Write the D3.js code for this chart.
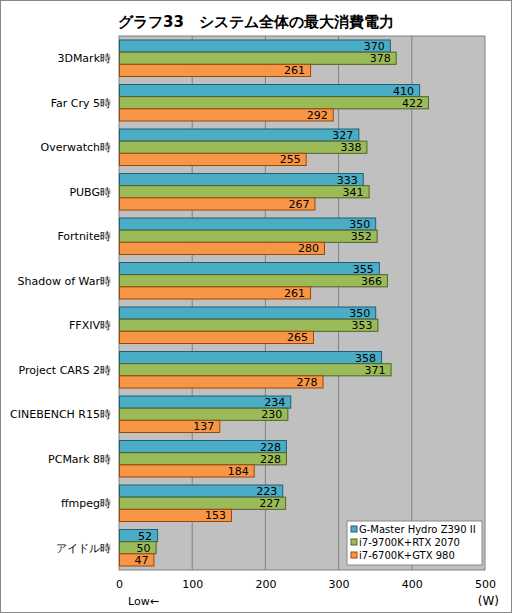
<!DOCTYPE html>
<html>
<head>
<meta charset="utf-8">
<style>
    body { margin: 0; background: #fff; }
    text { font-family: "DejaVu Sans", sans-serif; }
</style>
</head>
<body>
<div id="target"></div>
<script src="https://cdnjs.cloudflare.com/ajax/libs/d3/7.8.5/d3.min.js"></script>
<script>
    var categories = ['3DMark時', 'Far Cry 5時', 'Overwatch時', 'PUBG時', 'Fortnite時', 'Shadow of War時',
        'FFXIV時', 'Project CARS 2時', 'CINEBENCH R15時', 'PCMark 8時', 'ffmpeg時', 'アイドル時'];
    var seriesNames = ['G-Master Hydro Z390 II', 'i7-9700K+RTX 2070', 'i7-6700K+GTX 980'];
    var gmaster = [370, 410, 327, 333, 350, 355, 350, 358, 234, 228, 223, 52];
    var rtx2070 = [378, 422, 338, 341, 352, 366, 353, 371, 230, 228, 227, 50];
    var gtx980 = [261, 292, 255, 267, 280, 261, 265, 278, 137, 184, 153, 47];
    var xTicks = [0, 100, 200, 300, 400, 500];

    var fills = ['#4bacc6', '#9bbb59', '#f79646'];
    var strokes = ['#1f5f73', '#4f6228', '#984807'];
    var series = [gmaster, rtx2070, gtx980];

    var W = 512, H = 613;
    var pLeft = 119, pRight = 485, pTop = 36, pBottom = 570;

    var svg = d3.select('#target').append('svg').attr('width', W).attr('height', H);
    svg.append('rect').attr('x', 0.5).attr('y', 0.5).attr('width', W - 1).attr('height', H - 1)
        .attr('fill', '#fff').attr('stroke', '#888');

    svg.append('text').attr('x', 256).attr('y', 27).attr('text-anchor', 'middle')
        .attr('font-size', 15).attr('font-weight', 'bold')
        .text('グラフ33　システム全体の最大消費電力');

    var x = d3.scaleLinear().domain([0, 500]).range([pLeft, pRight]);
    var y = d3.scaleBand().domain(categories).range([pTop, pBottom]);
    var inner = d3.scaleBand().domain([0, 1, 2]).range([4, y.bandwidth() - 4]).padding(0);

    svg.append('rect').attr('x', pLeft).attr('y', pTop).attr('width', pRight - pLeft).attr('height', pBottom - pTop)
        .attr('fill', '#c0c0c0').attr('stroke', '#808080');

    svg.append('g').selectAll('line').data(xTicks.slice(1, -1)).enter().append('line')
        .attr('x1', function (d) { return x(d); }).attr('x2', function (d) { return x(d); })
        .attr('y1', pTop).attr('y2', pBottom).attr('stroke', '#808080');

    var groups = svg.append('g').selectAll('g').data(categories).enter().append('g')
        .attr('transform', function (d) { return 'translate(0,' + y(d) + ')'; });

    groups.append('text').attr('x', pLeft - 8).attr('y', y.bandwidth() / 2 + 4)
        .attr('text-anchor', 'end').attr('font-size', 11).text(function (d) { return d; });

    series.forEach(function (vals, s) {
        groups.append('rect')
            .attr('x', pLeft + 0.5)
            .attr('y', inner(s))
            .attr('width', function (d, i) { return x(vals[i]) - pLeft; })
            .attr('height', inner.bandwidth())
            .attr('fill', fills[s]).attr('stroke', strokes[s]);
        groups.append('text')
            .attr('x', function (d, i) { return x(vals[i]) - 5; })
            .attr('y', inner(s) + inner.bandwidth() / 2 + 4)
            .attr('text-anchor', 'end').attr('font-size', 11)
            .text(function (d, i) { return vals[i]; });
    });

    var xAxis = svg.append('g').attr('transform', 'translate(0,' + pBottom + ')')
        .call(d3.axisBottom(x).tickValues(xTicks).tickSize(0).tickPadding(10));
    xAxis.select('.domain').remove();
    xAxis.selectAll('text').attr('font-size', 11).attr('fill', '#000').style('font-family', 'DejaVu Sans');

    svg.append('text').attr('x', 128).attr('y', 605).attr('font-size', 11).text('Low←');
    svg.append('text').attr('x', 499).attr('y', 605).attr('text-anchor', 'end').attr('font-size', 12).text('(W)');

    var lg = svg.append('g').attr('transform', 'translate(347,521)');
    lg.append('rect').attr('width', 135).attr('height', 44).attr('fill', '#fff').attr('stroke', '#888');
    seriesNames.forEach(function (n, i) {
        lg.append('rect').attr('x', 4).attr('y', 5 + i * 13).attr('width', 6).attr('height', 6)
            .attr('fill', fills[i]).attr('stroke', strokes[i]);
        lg.append('text').attr('x', 12).attr('y', 12 + i * 13).attr('font-size', 10).text(n);
    });
</script>
</body>
</html>
